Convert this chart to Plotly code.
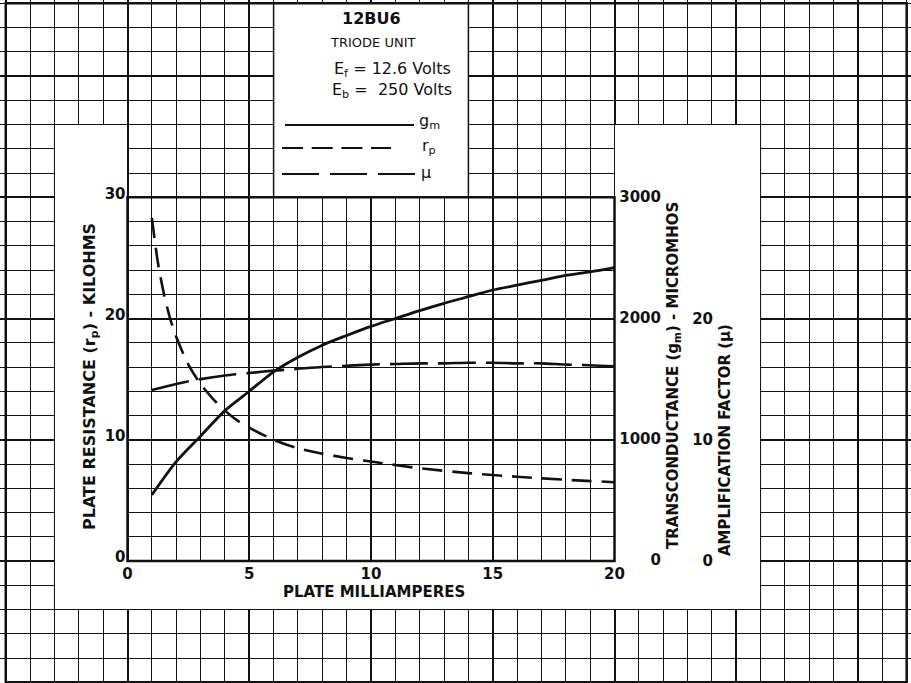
import plotly.graph_objects as go

# ---------------- data ----------------
rp_ma = [1, 1.25, 1.5, 1.75, 2, 2.5, 3, 3.5, 4, 4.5, 5, 6, 7, 8, 9, 10, 12, 14, 16, 18, 20]
rp_kohm = [28.3, 24.6, 22.0, 20.0, 18.5, 16.2, 14.6, 13.4, 12.4, 11.6, 11.0, 10.0, 9.3, 8.85, 8.5, 8.2,
           7.65, 7.25, 6.95, 6.7, 6.5]

gm_ma = [1, 2, 3, 4, 5, 6, 7, 8, 9, 10, 11, 12, 13, 14, 15, 16, 17, 18, 19, 20]
gm_umho = [545, 820, 1030, 1240, 1400, 1560, 1680, 1780, 1860, 1935, 2000, 2065, 2125, 2180, 2235,
           2275, 2315, 2355, 2385, 2420]

mu_ma = [1, 2, 3, 4, 5, 6, 7, 8, 9, 10, 11, 12, 13, 14, 15, 16, 17, 18, 19, 20]
mu_val = [14.1, 14.6, 15.0, 15.3, 15.5, 15.7, 15.85, 16.0, 16.1, 16.2, 16.25, 16.3, 16.3, 16.35, 16.35,
          16.3, 16.3, 16.2, 16.15, 16.05]

x_ticks = [0, 5, 10, 15, 20]
rp_ticks = [0, 10, 20, 30]
gm_ticks = [0, 1000, 2000, 3000]
mu_ticks = [0, 10, 20]

# ---------------- geometry / style ----------------
W, H = 911, 683
X_PX0, X_PXU = 127.5, 24.35      # pixel of x=0, pixels per mA
Y_PX0, Y_PXU = 561.0, 12.125     # pixel of y=0, pixels per unit
X0 = -X_PX0 / X_PXU
X1 = (W - X_PX0) / X_PXU
Y0 = -(H - Y_PX0) / Y_PXU
Y1 = Y_PX0 / Y_PXU

INK = "#111111"
FONT = "DejaVu Sans"


def px(x):
    return x / W


def py(y):
    return 1 - y / H


fig = go.Figure()

fig.add_trace(go.Scatter(x=rp_ma, y=rp_kohm, mode="lines", xaxis="x2", yaxis="y2",
                         line=dict(color=INK, width=2.6, dash="20px,10px", shape="spline", smoothing=0.8),
                         name="rp", showlegend=False))
fig.add_trace(go.Scatter(x=gm_ma, y=gm_umho, mode="lines", xaxis="x2", yaxis="y3",
                         line=dict(color=INK, width=2.8, shape="spline", smoothing=0.8),
                         name="gm", showlegend=False))
fig.add_trace(go.Scatter(x=mu_ma, y=mu_val, mode="lines", xaxis="x2", yaxis="y4",
                         line=dict(color=INK, width=2.6, dash="38px,10px", shape="spline", smoothing=0.8),
                         name="mu", showlegend=False))

tickfont = dict(family=FONT, size=15, color=INK, weight="bold")

grid_common = dict(showgrid=True, gridcolor=INK, gridwidth=2, zeroline=False, showline=False,
                   ticks="", showticklabels=False, fixedrange=True)

fig.update_layout(
    width=W, height=H, autosize=False,
    margin=dict(l=0, r=0, t=0, b=0, pad=0),
    paper_bgcolor="white", plot_bgcolor="white",
    showlegend=False,
    xaxis=dict(range=[X0, X1], domain=[0, 1], tick0=0, dtick=5,
               minor=dict(tick0=0, dtick=1, showgrid=True, gridcolor=INK, gridwidth=1),
               **grid_common),
    yaxis=dict(range=[Y0, Y1], domain=[0, 1], tick0=0, dtick=10,
               minor=dict(tick0=0, dtick=2, showgrid=True, gridcolor=INK, gridwidth=1),
               **grid_common),
    xaxis2=dict(range=[X0, X1], overlaying="x", anchor="free", position=py(Y_PX0), side="bottom",
                tickmode="array", tickvals=x_ticks, ticktext=[str(v) for v in x_ticks],
                showgrid=False, zeroline=False, showline=False, ticks="", tickfont=tickfont,
                ticklabelstandoff=2, fixedrange=True),
    yaxis2=dict(range=[Y0, Y1], overlaying="y", anchor="free", position=px(X_PX0 - 1), side="left",
                tickmode="array", tickvals=rp_ticks, ticktext=[str(v) for v in rp_ticks],
                showgrid=False, zeroline=False, showline=False, ticks="", tickfont=tickfont,
                ticklabelstandoff=1, ticklabelshift=-4, fixedrange=True),
    yaxis3=dict(range=[Y0 * 100, Y1 * 100], overlaying="y", anchor="free", position=px(661), side="left",
                tickmode="array", tickvals=gm_ticks, ticktext=[str(v) for v in gm_ticks],
                showgrid=False, zeroline=False, showline=False, ticks="", tickfont=tickfont,
                ticklabelstandoff=0, ticklabelshift=-1, fixedrange=True),
    yaxis4=dict(range=[Y0, Y1], overlaying="y", anchor="free", position=px(713), side="left",
                tickmode="array", tickvals=mu_ticks, ticktext=[str(v) for v in mu_ticks],
                showgrid=False, zeroline=False, showline=False, ticks="", tickfont=tickfont,
                ticklabelstandoff=0, fixedrange=True),
)

# white label frame round the plot (covers the grid paper), legend panel, borders
frame_path = "M -3,-4 L 26,-4 L 26,36 L 20,36 L 20,0 L 0,0 L 0,36 L -3,36 Z"
fig.add_shape(type="path", path=frame_path, xref="x", yref="y", layer="between",
              fillcolor="white", line=dict(color=INK, width=1))
fig.add_shape(type="rect", x0=6, x1=14, y0=30, y1=46, xref="x", yref="y", layer="between",
              fillcolor="white", line=dict(color=INK, width=1.5))
fig.add_shape(type="rect", x0=0, x1=20, y0=0, y1=30, xref="x", yref="y", layer="between",
              fillcolor="rgba(0,0,0,0)", line=dict(color=INK, width=2.5))
fig.add_shape(type="rect", x0=-5, x1=32, y0=-10, y1=46, xref="x", yref="y", layer="between",
              fillcolor="rgba(0,0,0,0)", line=dict(color=INK, width=2.5))

# legend sample lines
fig.add_shape(type="line", xref="paper", yref="paper", x0=px(285), x1=px(414), y0=py(125), y1=py(125),
              line=dict(color=INK, width=2.2))
fig.add_shape(type="line", xref="paper", yref="paper", x0=px(282), x1=px(391), y0=py(148), y1=py(148),
              line=dict(color=INK, width=2.2, dash="21px,8.7px"))
fig.add_shape(type="line", xref="paper", yref="paper", x0=px(282), x1=px(415), y0=py(174), y1=py(174),
              line=dict(color=INK, width=2.2, dash="37px,11px"))


def label(text, x, y, size=15, bold=True, angle=0, xanchor="center"):
    fig.add_annotation(text=text, x=px(x), y=py(y), xref="paper", yref="paper", showarrow=False,
                       textangle=angle, xanchor=xanchor, yanchor="middle",
                       font=dict(family=FONT, size=size, color=INK, weight="bold" if bold else "normal"))


# axis titles
label("PLATE MILLIAMPERES", 374, 592)
label("PLATE RESISTANCE (r<sub>p</sub>) - KILOHMS", 90, 377, size=16, angle=-90)
label("TRANSCONDUCTANCE (g<sub>m</sub>) - MICROMHOS", 673, 376, angle=-90)
label("AMPLIFICATION FACTOR (μ)", 725, 440, angle=-90)

# legend panel text
label("12BU6", 371, 19, size=16)
label("TRIODE UNIT", 372, 43, size=13, bold=False)
label("E<sub>f</sub> = 12.6 Volts", 392, 70, size=16, bold=False)
label("E<sub>b</sub> =  250 Volts", 392, 91, size=16, bold=False)
label("g<sub>m</sub>", 417, 121, size=16, bold=False, xanchor="left")
label("r<sub>p</sub>", 420, 146, size=16, bold=False, xanchor="left")
label("μ", 419, 172, size=16, bold=False, xanchor="left")

fig.write_html("out.html")
